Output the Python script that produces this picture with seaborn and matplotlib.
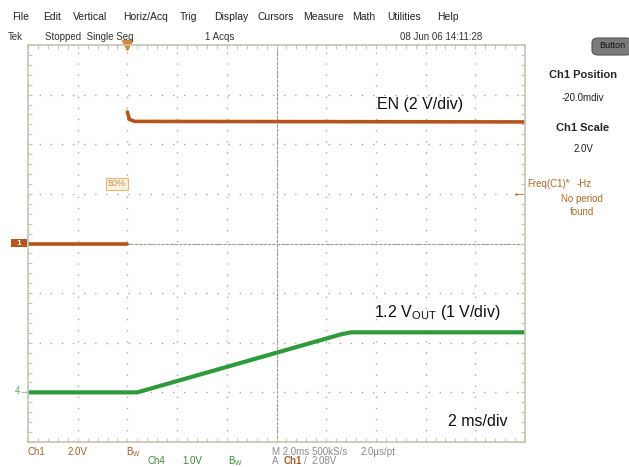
import numpy as np
import pandas as pd
import seaborn as sns
import matplotlib.pyplot as plt
from matplotlib.ticker import MultipleLocator
from matplotlib.patches import FancyBboxPatch, Rectangle

sns.set_style("white")
plt.rcParams['font.family'] = ['Liberation Sans', 'DejaVu Sans']

W, H = 629, 467

# Waveforms (time in ms, trigger at 0 ms, 2 ms/div)
en_time_low = [-4.0, 0.0]
en_volt_low = [0.0, 0.0]
en_time_high = [0.0, 0.08, 0.3, 16.0]
en_volt_high = [5.3, 5.0, 4.92, 4.9]
vout_time = [-4.0, 0.4, 8.6, 9.0, 16.0]
vout_volt = [0.0, 0.0, 1.17, 1.21, 1.21]

en_scale = 2.0      # V/div
vout_scale = 1.0    # V/div
en_ground = 0.0     # div
vout_ground = -3.0  # div
trigger_time = 0.0

EN_COLOR = '#B4561C'
VOUT_COLOR = '#2E9A3C'
GRID_COLOR = '#a8a8a0'
FRAME_COLOR = '#c8c4b4'

en = pd.DataFrame({
    't': en_time_low + en_time_high,
    'v': en_volt_low + en_volt_high,
    'seg': ['low'] * len(en_time_low) + ['high'] * len(en_time_high),
})
en['div'] = en['v'] / en_scale + en_ground
vout = pd.DataFrame({'t': vout_time, 'v': vout_volt, 'seg': 'a'})
vout['div'] = vout['v'] / vout_scale + vout_ground


def px(x, y):
    return x / W, 1 - y / H


fig = plt.figure(figsize=(W / 100, H / 100), dpi=100, facecolor='white')
pos = [28 / W, 25 / H, 497 / W, 397 / H]

# center crosshair with ticks (drawn underneath the traces)
ax2 = fig.add_axes(pos, facecolor='white', zorder=0)
ax2.set_xlim(-4, 16)
ax2.set_ylim(-4, 4)
ax2.spines['left'].set_position(('data', 6))
ax2.spines['bottom'].set_position(('data', 0))
ax2.spines['top'].set_visible(False)
ax2.spines['right'].set_visible(False)
for k in ['left', 'bottom']:
    ax2.spines[k].set_color('#9a9a90')
    ax2.spines[k].set_linestyle((0, (2, 2)))
    ax2.spines[k].set_linewidth(0.8)
ax2.set_xticks([])
ax2.set_yticks([])
ax2.xaxis.set_minor_locator(MultipleLocator(0.4))
ax2.yaxis.set_minor_locator(MultipleLocator(0.2))
ax2.tick_params(which='minor', direction='inout', length=5, width=0.8, color='#a8a8a0',
                labelbottom=False, labelleft=False)

ax = fig.add_axes(pos, facecolor='none', zorder=1)
ax.set_xlim(-4, 16)
ax.set_ylim(-4, 4)

# graticule
ax.set_xticks(np.arange(-4, 16.1, 2))
ax.set_yticks(np.arange(-4, 4.1, 1))
ax.xaxis.set_minor_locator(MultipleLocator(0.4))
ax.yaxis.set_minor_locator(MultipleLocator(0.2))
ax.grid(True, which='major', color=GRID_COLOR, linestyle=(0, (1, 7)), linewidth=1)
ax.tick_params(which='both', direction='in', top=True, right=True, bottom=True, left=True,
               labelbottom=False, labelleft=False, color=FRAME_COLOR, length=3, width=0.8)
for s in ax.spines.values():
    s.set_color(FRAME_COLOR)
    s.set_linewidth(1.2)

# traces
sns.lineplot(data=en, x='t', y='div', units='seg', estimator=None, sort=False,
             color=EN_COLOR, linewidth=2.6, ax=ax)
sns.lineplot(data=vout, x='t', y='div', units='seg', estimator=None, sort=False,
             color=VOUT_COLOR, linewidth=3.0, ax=ax)
ax.set_xlabel('')
ax.set_ylabel('')

# trigger marker and level
ax.plot([trigger_time], [4], marker='v', color='#d08a40', markersize=7, clip_on=False)
ax.text(trigger_time - 0.05, 1.2, '50%', ha='right', va='center', fontsize=6.5, color='#c89050',
        bbox=dict(boxstyle='square,pad=0.2', fc='#fbf0dc', ec='#e0b880', lw=0.8))

# annotations
fig.text(*px(377, 104), 'EN (2 V/div)', fontsize=11.5, color='#111111', va='center')
fig.text(*px(374, 313), r'1.2 V$_{\mathregular{OUT}}$ (1 V/div)', fontsize=11.5,
         color='#111111', va='center')
fig.text(*px(448, 422), '2 ms/div', fontsize=11.5, color='#111111', va='center')

# menu bar
menu = [('File', 12), ('Edit', 43), ('Vertical', 73), ('Horiz/Acq', 123), ('Trig', 180),
        ('Display', 214), ('Cursors', 258), ('Measure', 303), ('Math', 352),
        ('Utilities', 387), ('Help', 437)]
for label, x in menu:
    fig.text(*px(x, 17), label, fontsize=7.5, color='#222222', va='center')

fig.text(*px(8, 37), 'Tek', fontsize=7, color='#333333', va='center')
fig.text(*px(45, 37), 'Stopped  Single Seq', fontsize=7, color='#333333', va='center')
fig.text(*px(205, 37), '1 Acqs', fontsize=7, color='#333333', va='center')
fig.text(*px(400, 37), '08 Jun 06 14:11:28', fontsize=7, color='#333333', va='center')

btn = FancyBboxPatch(px(592, 55), 40 / W, 17 / H, boxstyle='round,pad=0,rounding_size=0.01',
                     transform=fig.transFigure, fc='#7a7a7a', ec='#555555', lw=0.8)
fig.patches.append(btn)
fig.text(*px(612, 46), 'Button', fontsize=6.5, color='#111111', ha='center', va='center')

# right panel
fig.text(*px(583, 75), 'Ch1 Position', fontsize=8, weight='bold', ha='center', va='center')
fig.text(*px(583, 98), '-20.0mdiv', fontsize=7, ha='center', va='center', color='#222222')
fig.text(*px(583, 128), 'Ch1 Scale', fontsize=8, weight='bold', ha='center', va='center')
fig.text(*px(583, 149), '2.0V', fontsize=7, ha='center', va='center', color='#222222')
fig.text(*px(527, 184), 'Freq(C1)*', fontsize=7, va='center', color='#b06a28')
fig.text(*px(577, 184), '-Hz', fontsize=7, va='center', color='#b06a28')
fig.text(*px(582, 199), 'No period', fontsize=7, ha='center', va='center', color='#b06a28')
fig.text(*px(582, 212), 'found', fontsize=7, ha='center', va='center', color='#b06a28')
fig.text(*px(511, 193), '\u2190', fontsize=10, va='center', color=EN_COLOR)

# channel markers
fig.patches.append(Rectangle(px(11, 247), 16 / W, 8 / H, transform=fig.transFigure,
                             fc=EN_COLOR, ec='none'))
fig.text(*px(16, 243), '1', fontsize=6, color='white', va='center', weight='bold')
fig.text(*px(15, 391), '4\u2192', fontsize=7, color='#6aaa6a', va='center')

# bottom status
fig.text(*px(28, 452), 'Ch1', fontsize=7, color='#a0602a', va='center')
fig.text(*px(68, 452), '2.0V', fontsize=7, color='#a0602a', va='center')
fig.text(*px(126, 452), r'B$_{\mathregular{W}}$', fontsize=7, color='#a0602a', va='center')
fig.text(*px(147, 461), 'Ch4', fontsize=7, color='#3a8a3a', va='center')
fig.text(*px(182, 461), '1.0V', fontsize=7, color='#3a8a3a', va='center')
fig.text(*px(228, 461), r'B$_{\mathregular{W}}$', fontsize=7, color='#3a8a3a', va='center')
fig.text(*px(272, 452), 'M 2.0ms 500kS/s', fontsize=7, color='#8a8a8a', va='center')
fig.text(*px(361, 452), '2.0\u00b5s/pt', fontsize=7, color='#8a8a8a', va='center')
fig.text(*px(272, 461), 'A', fontsize=7, color='#8a8a8a', va='center')
fig.text(*px(284, 461), 'Ch1', fontsize=7, color='#a0602a', va='center', weight='bold')
fig.text(*px(304, 461), '/', fontsize=7, color='#8a8a8a', va='center')
fig.text(*px(312, 461), '2.08V', fontsize=7, color='#8a8a8a', va='center')

fig.savefig('out.png', dpi=100)
